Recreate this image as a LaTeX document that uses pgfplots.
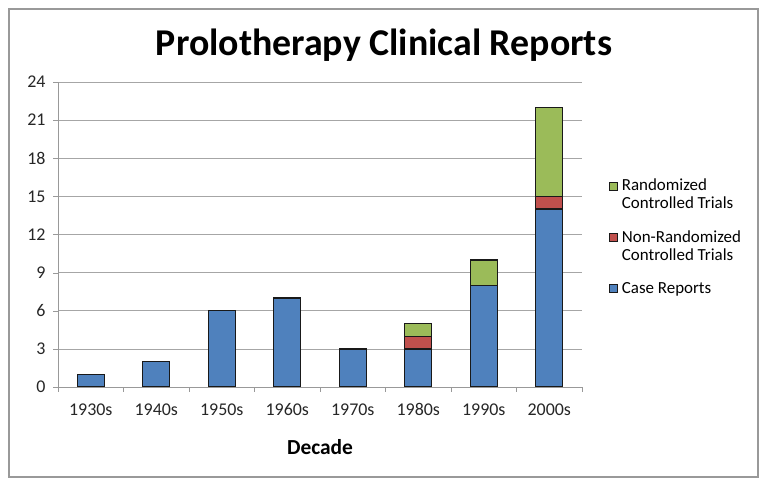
\documentclass[border=0pt]{standalone}
\usepackage{pgfplots}
\pgfplotsset{compat=1.18}
\usepackage{fontspec}
\setmainfont{Carlito}
\definecolor{cblue}{HTML}{4F81BD}
\definecolor{cred}{HTML}{C0504D}
\definecolor{cgreen}{HTML}{9BBB59}
\begin{document}
\begin{tikzpicture}[x=1bp,y=1bp]
\path[use as bounding box] (0,0) rectangle (767,487);
\draw[gray!80, line width=1.5bp] (9,10) rectangle (758,478);
\node[font=\bfseries\fontsize{38}{44}\selectfont] at (384,442) {Prolotherapy Clinical Reports};
\begin{axis}[
  at={(58bp,100bp)}, anchor=south west,
  scale only axis, width=524bp, height=305bp,
  ybar, bar width=27bp,
  xmin=-0.5, xmax=7.5, ymin=0, ymax=24,
  ytick={0,3,...,24},
  xtick={0,...,7},
  xticklabels={1930s,1940s,1950s,1960s,1970s,1980s,1990s,2000s},
  minor xtick={-0.5,0.5,...,7.5},
  major x tick style={draw=none},
  minor tick length=5bp, major tick length=5bp,
  tick align=outside,
  tick style={gray!80},
  axis x line*=bottom, axis y line*=left,
  axis line style={gray!80, line width=0.8bp},
  ymajorgrids, grid style={gray!70, line width=0.6bp},
  ticklabel style={font=\fontsize{18}{20}\selectfont, text=black!85},
  /pgf/number format/assume math mode=true,
  xticklabel style={yshift=-8bp},
  yticklabel style={xshift=-4bp},
  xlabel={Decade},
  xlabel style={font=\bfseries\fontsize{21.5}{24}\selectfont, at={(axis description cs:0.5,0)}, anchor=center, yshift=-60bp},
  legend image code/.code={\draw[#1, draw=black!90, line width=0.7bp] (0bp,-11bp) rectangle (8bp,-3bp);},
  legend style={at={(axis description cs:1,0.689)}, anchor=north west, xshift=24bp, draw=none, fill=none,
    font=\fontsize{17}{18}\selectfont, row sep=20bp, column sep=4bp,
    nodes={align=left, anchor=north west, inner sep=0bp}},
  legend cell align=left,
]
% cumulative bar tops (Case + Non-Randomized + Randomized)
\addplot+[bar shift=0pt, fill=cgreen, draw=black!90, line width=1.3bp] coordinates {(5,5) (6,10) (7,22)};
% cumulative bar tops (Case + Non-Randomized)
\addplot+[bar shift=0pt, fill=cred, draw=black!90, line width=1.3bp] coordinates {(5,4) (7,15)};
% Case Reports
\addplot+[bar shift=0pt, fill=cblue, draw=black!90, line width=1.3bp] coordinates {(0,1) (1,2) (2,6) (3,7) (4,3) (5,3) (6,8) (7,14)};
\legend{Randomized\\Controlled Trials, Non-Randomized\\Controlled Trials, Case Reports}
\end{axis}
\end{tikzpicture}
\end{document}
